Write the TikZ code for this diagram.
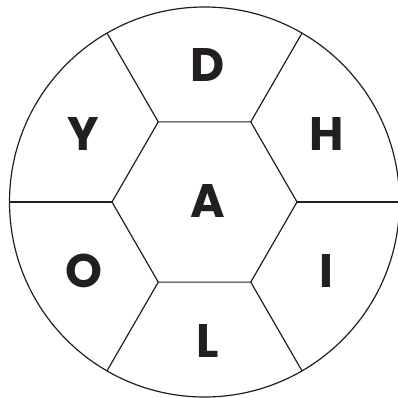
\documentclass[tikz,border=0pt]{standalone}
\usepackage{fontspec}
\setmainfont{Poppins}
\usetikzlibrary{positioning}
\definecolor{ink}{HTML}{231F20}

\begin{document}
\begin{tikzpicture}[
  x=1pt, y=1pt,
  line/.style={draw=ink, line width=1.2pt, line join=miter},
  rim/.style={line, circle, inner sep=0pt, outer sep=0pt, minimum size=390pt},
  letter/.style={inner sep=0pt, text=ink, font=\fontsize{47}{47}\selectfont\bfseries},
]
\useasboundingbox (-204.5,-196) rectangle (193.5,202);
\node[rim] (disc) at (0,0) {};
% hexagon corners
\coordinate (h0) at (0:92.5);
\coordinate (h1) at (60:92.5);
\coordinate (h2) at (120:92.5);
\coordinate (h3) at (180:92.5);
\coordinate (h4) at (240:92.5);
\coordinate (h5) at (300:92.5);
\draw[line] (h0) -- (h1) -- (h2) -- (h3) -- (h4) -- (h5) -- cycle;
\draw[line] (h0) -- (disc.0);
\draw[line] (h1) -- (disc.60);
\draw[line] (h2) -- (disc.120);
\draw[line] (h3) -- (disc.180);
\draw[line] (h4) -- (disc.240);
\draw[line] (h5) -- (disc.300);
% letters
\node[letter] (a) at (3.5,1) {A};
\node[letter] (d) at (3,137) {D};
\node[letter] (l) at (3.5,-139.5) {L};
\node[letter] (y) at (-121.5,68) {Y};
\node[letter] (h) at (122.5,68) {H};
\node[letter] (o) at (-121,-69) {O};
\node[letter] (i) at (122,-69.5) {I};
\end{tikzpicture}
\end{document}
